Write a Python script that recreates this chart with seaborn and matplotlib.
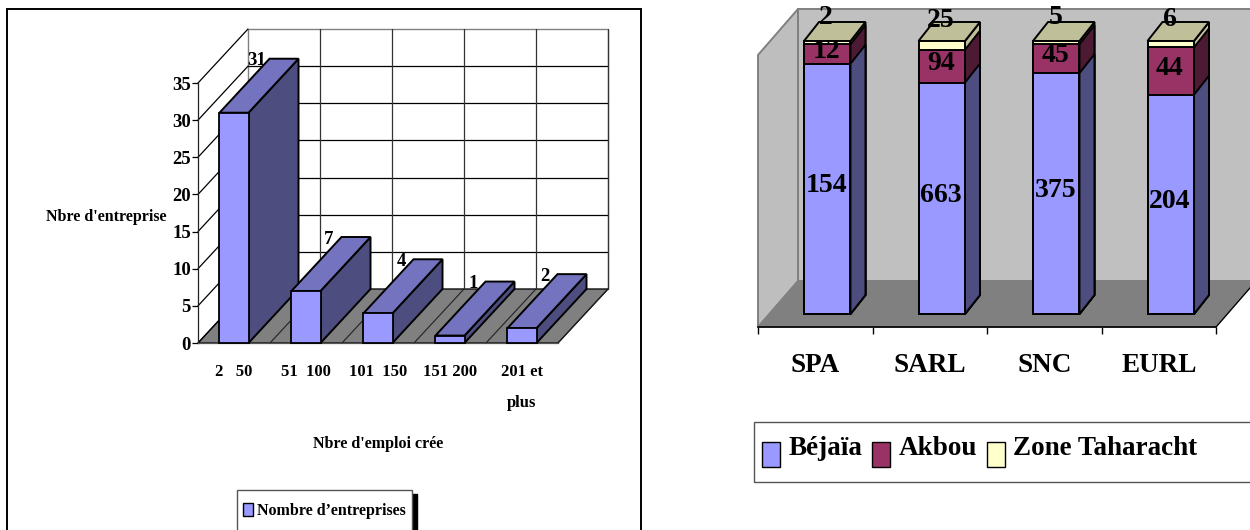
import numpy as np
import pandas as pd
import matplotlib
matplotlib.use('Agg')
import matplotlib.pyplot as plt
from matplotlib.patches import Polygon, Rectangle, Patch
import seaborn as sns

# --- DATA ---
job_ranges = ['2   50', '51  100', '101  150', '151 200', '201 et\nplus']
company_counts = [31, 7, 4, 1, 2]
y_ticks = [0, 5, 10, 15, 20, 25, 30, 35]

legal_forms = ['SPA', 'SARL', 'SNC', 'EURL']
bejaia = [154, 663, 375, 204]
akbou = [12, 94, 45, 44]
taharacht = [2, 25, 5, 6]

sns.set_style('white')
plt.rcParams['font.family'] = ['Liberation Serif', 'DejaVu Serif']
plt.rcParams['font.weight'] = 'bold'
plt.rcParams['text.color'] = 'black'
plt.rcParams['axes.labelcolor'] = 'black'
plt.rcParams['xtick.color'] = 'black'
plt.rcParams['ytick.color'] = 'black'

W, H = 1250, 530
fig = plt.figure(figsize=(W / 100, H / 100), dpi=100, facecolor='white')


def px_axes(x0, y0, x1, y1):
    ax = fig.add_axes([x0 / W, 1 - y1 / H, (x1 - x0) / W, (y1 - y0) / H])
    ax.patch.set_alpha(0)
    return ax


def px_box(x0, y0, x1, y1, fc, ec, lw=1.0):
    fig.add_artist(Rectangle((x0 / W, 1 - y1 / H), (x1 - x0) / W, (y1 - y0) / H, transform=fig.transFigure,
                             facecolor=fc, edgecolor=ec, linewidth=lw, zorder=-1))


def poly(ax, pts, fc, ec='black', lw=1.0, z=1):
    ax.add_patch(Polygon(pts, closed=True, facecolor=fc, edgecolor=ec,
                         linewidth=lw, zorder=z, clip_on=False))


def add_depth(ax, bar, dx, dy, side, top=None, z=3):
    # side and top faces of a 3D looking bar, taken from the seaborn bar
    x0, x1 = bar.get_x(), bar.get_x() + bar.get_width()
    y0, y1 = bar.get_y(), bar.get_y() + bar.get_height()
    poly(ax, [(x1, y0), (x1 + dx, y0 + dy), (x1 + dx, y1 + dy), (x1, y1)], side, lw=1.4, z=z)
    if top is not None:
        poly(ax, [(x0, y1), (x0 + dx, y1 + dy), (x1 + dx, y1 + dy), (x1, y1)], top, lw=1.4, z=z)
    bar.set_zorder(z + 0.5)
    bar.set_clip_on(False)


# --- LEFT CHART ---
px_box(7, 9, 641, 545, 'white', 'black', lw=1.4)

ax1 = px_axes(198, 83, 558, 343)
df1 = pd.DataFrame({'range': job_ranges, 'count': company_counts})
sns.barplot(data=df1, x='range', y='count', color='#9999FF', saturation=1, width=0.403,
            edgecolor='black', linewidth=1.3, ax=ax1)
ax1.set_xlim(-0.5, 4.5)
ax1.set_ylim(0, 35)

dx1 = 50 / 72
dy1 = 54 / (260 / 35)
n = len(job_ranges)
poly(ax1, [(-0.5 + dx1, dy1), (-0.5 + dx1, 35 + dy1), (n - 0.5 + dx1, 35 + dy1), (n - 0.5 + dx1, dy1)],
     'white', ec='#808080', z=0.5)
poly(ax1, [(-0.5, 0), (-0.5 + dx1, dy1), (n - 0.5 + dx1, dy1), (n - 0.5, 0)], '#808080', lw=0.9, z=0.6)
for t in y_ticks:
    ax1.plot([-0.5, -0.5 + dx1], [t, t + dy1], color='black', lw=0.9, zorder=0.8, clip_on=False)
    if 0 < t < 35:
        ax1.plot([-0.5 + dx1, n - 0.5 + dx1], [t + dy1, t + dy1], color='black', lw=0.9, zorder=0.8, clip_on=False)
for i in range(1, n + 1):
    ax1.plot([i - 0.5 + dx1] * 2, [dy1, 35 + dy1], color='#333333', lw=0.9, zorder=0.8, clip_on=False)
    ax1.plot([i - 0.5, i - 0.5 + dx1], [0, dy1], color='#222222', lw=0.8, zorder=0.8, clip_on=False)

for i, bar in enumerate(ax1.containers[0]):
    add_depth(ax1, bar, dx1, dy1, '#4D4D80', '#7373BF', z=3 + 2 * i)
    ax1.annotate(str(company_counts[i]), xy=(i, company_counts[i]), xytext=(23, 52),
                 textcoords='offset pixels', ha='center', va='center', fontsize=13.5, zorder=20,
                 annotation_clip=False)

sns.despine(ax=ax1, top=True, right=True)
ax1.spines['left'].set_color('#222222')
ax1.spines['bottom'].set_color('#555555')
ax1.spines['left'].set_linewidth(0.9)
ax1.spines['bottom'].set_linewidth(0.9)
ax1.set_yticks(y_ticks)
ax1.tick_params(axis='y', length=4, width=0.9, color='black', left=True, pad=1, labelsize=13.5)
ax1.tick_params(axis='x', length=0, pad=15, labelsize=12)
for lab in ax1.get_xticklabels():
    lab.set_linespacing(2.3)
ax1.set_ylabel("Nbre d'entreprise", rotation=0, ha='right', va='center', fontsize=11.5, fontweight='bold')
ax1.yaxis.set_label_coords((166 - 198) / 360, (343 - 217) / 260)
ax1.set_xlabel("Nbre d'emploi crée", ha='center', va='center', fontsize=11.5, fontweight='bold')
ax1.xaxis.set_label_coords((378 - 198) / 360, (343 - 444) / 260)

px_box(412, 494, 417, 545, 'black', 'black')
px_box(237, 490, 412, 545, 'white', '#555555')
fig.legend(handles=[Patch(facecolor='#9999FF', edgecolor='black', label="Nombre d’entreprises")],
           loc='upper left', bbox_to_anchor=(243 / W, 1 - 503 / H), borderaxespad=0,
           fontsize=11.5, frameon=False, handlelength=0.6, handleheight=0.9,
           handletextpad=0.3, borderpad=0)

# --- RIGHT CHART ---
counts = np.array([bejaia, akbou, taharacht], dtype=float)
shares = counts / counts.sum(axis=0) * 100
cum = shares.cumsum(axis=0)

px_pct = (314 - 41) / 100
ax2 = px_axes(758, 41, 1216, 327)
gap = 12 / 114.5
dx2 = 40 / 114.5
dy2 = 46 / px_pct
low = -13 / px_pct
top_front = 100 - 14 / px_pct
colors = ['#9999FF', '#993366', '#FFFFCC']
sides = ['#4D4D80', '#4D1A33', '#BFBF99']

m = len(legal_forms)
left, right = -0.5 - gap, m - 0.5 - gap
poly(ax2, [(left + dx2, low + dy2), (left + dx2, top_front + dy2), (right + dx2, top_front + dy2), (right + dx2, low + dy2)],
     '#C0C0C0', ec='#808080', lw=1.4, z=0.5)
poly(ax2, [(left, low), (left, top_front), (left + dx2, top_front + dy2), (left + dx2, low + dy2)],
     '#BEBEBE', ec='#808080', lw=1.4, z=0.6)
poly(ax2, [(left, low), (left + dx2, low + dy2), (right + dx2, low + dy2), (right, low)],
     '#808080', ec='#808080', lw=1.0, z=0.7)
ax2.plot([right, right + dx2], [low, low + dy2], color='black', lw=0.9, zorder=0.8, clip_on=False)

# tallest layer first, each one hides the lower part of the previous one
for k in [2, 1, 0]:
    df2 = pd.DataFrame({'form': legal_forms, 'share': cum[k]})
    sns.barplot(data=df2, x='form', y='share', color=colors[k], saturation=1, width=0.406,
                edgecolor='black', linewidth=1.4, ax=ax2)
    for bar in ax2.containers[-1]:
        add_depth(ax2, bar, 15 / 114.5, 19 / px_pct, sides[k], '#BFBF99' if k == 2 else None, z=3 + (2 - k) * 2)

ax2.set_xlim(left, right)
ax2.set_ylim(low, 100)

lifts = [3, 3, 25]
for k in range(3):
    for i in range(m):
        base = cum[k - 1][i] if k else 0
        ax2.annotate(f'{counts[k][i]:.0f}', xy=(i, (base + cum[k][i]) / 2), xytext=(-1, lifts[k]),
                     textcoords='offset pixels', ha='center', va='center', fontsize=20, zorder=20,
                     annotation_clip=False)

sns.despine(ax=ax2, top=True, right=True, left=True)
ax2.spines['bottom'].set_color('black')
ax2.spines['bottom'].set_linewidth(1.2)
ax2.set_yticks([])
ax2.set_xticks(np.arange(m + 1) - 0.5 - gap)
ax2.set_xticklabels([])
ax2.set_xticks(np.arange(m) - gap, legal_forms, minor=True)
ax2.tick_params(axis='x', which='major', length=5, width=1, color='black', bottom=True)
ax2.tick_params(axis='x', which='minor', length=0, pad=19, labelsize=19.5)
ax2.set_xlabel('')
ax2.set_ylabel('')

px_box(754, 422, 1264, 482, 'white', '#555555')
handles = [Patch(facecolor=c, edgecolor='black', label=l)
           for c, l in zip(colors, ['Béjaïa', 'Akbou', 'Zone Taharacht'])]
leg2 = fig.legend(handles=handles, loc='upper left', ncol=3, bbox_to_anchor=(762 / W, 1 - 434 / H), borderaxespad=0,
                  fontsize=19.5, frameon=False, handlelength=0.67, handleheight=1.0, handletextpad=0.3,
                  columnspacing=0.37, borderpad=0)
for h in leg2.legend_handles:
    h.set_y(h.get_y() - 6)

fig.savefig('out.png', dpi=100)
